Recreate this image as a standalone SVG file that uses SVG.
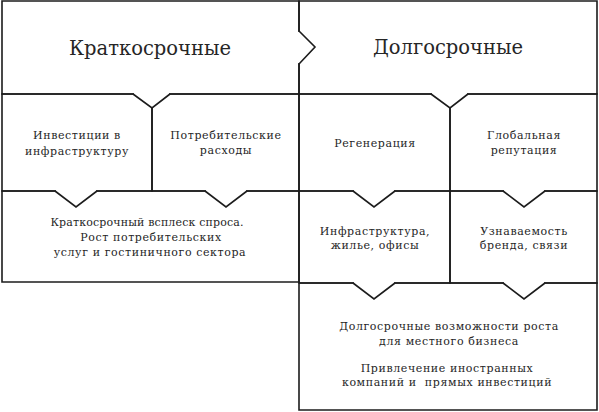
<svg xmlns="http://www.w3.org/2000/svg" width="599" height="412" viewBox="0 0 599 412">
<style>
.b{fill:none;stroke:#1c1c1c;stroke-width:1.6;stroke-linejoin:miter;stroke-linecap:square}
.c{fill:none;stroke:#1c1c1c;stroke-width:1.6;stroke-linejoin:miter}
.t{font-family:"DejaVu Serif","Liberation Serif",serif;fill:#262626;text-anchor:middle}
.h{font-size:19.5px}
.s{font-size:11px;letter-spacing:0.6px}
</style>
<rect width="599" height="412" fill="#ffffff"/>
<g id="short-term">
<path class="b" d="M299,31 V1 H2 V94 H133 M170,94 H299 V64"/>
<text class="t h" x="150" y="55">Краткосрочные</text>
</g>
<g id="long-term">
<path class="b" d="M299,31 V1 H597 V94 H468 M431,94 H299 V64"/>
<text class="t h" x="448" y="54">Долгосрочные</text>
</g>
<g id="infra-invest">
<path class="b" d="M133,94 H2 V191 H55 M97,191 H152 V108"/>
<text class="t s" x="77" y="139">Инвестиции в</text>
<text class="t s" x="77" y="155">инфраструктуру</text>
</g>
<g id="consumer-spending">
<path class="b" d="M170,94 H299 V191 H247 M205,191 H152 V108"/>
<text class="t s" x="226" y="139">Потребительские</text>
<text class="t s" x="226" y="154">расходы</text>
</g>
<g id="demand-burst">
<path class="b" d="M55,191 H2 V282 H299 V191 H247 M205,191 H97"/>
<text class="t s" x="147" y="226" style="letter-spacing:0.15px">Краткосрочный всплеск спроса.</text>
<text class="t s" x="151" y="241">Рост потребительских</text>
<text class="t s" x="150" y="256">услуг и гостиничного сектора</text>
</g>
<g id="regeneration">
<path class="b" d="M431,94 H299 V191 H353 M395,191 H450 V108"/>
<text class="t s" x="375" y="147">Регенерация</text>
</g>
<g id="global-reputation">
<path class="b" d="M468,94 H597 V191 H545 M503,191 H450 V108"/>
<text class="t s" x="524" y="139">Глобальная</text>
<text class="t s" x="524" y="154">репутация</text>
</g>
<g id="infrastructure">
<path class="b" d="M353,191 H299 V283 H353 M395,283 H450 V191 H395"/>
<text class="t s" x="375" y="235">Инфраструктура,</text>
<text class="t s" x="375" y="249">жилье, офисы</text>
</g>
<g id="brand">
<path class="b" d="M503,191 H450 V283 H503 M545,283 H597 V191 H545"/>
<text class="t s" x="524" y="235">Узнаваемость</text>
<text class="t s" x="524" y="249">бренда, связи</text>
</g>
<g id="long-growth">
<path class="b" d="M353,283 H299 V410 H597 V283 H545 M503,283 H395"/>
<text class="t s" x="449" y="330">Долгосрочные возможности роста</text>
<text class="t s" x="449" y="345">для местного бизнеса</text>
<text class="t s" x="447" y="372">Привлечение иностранных</text>
<text class="t s" x="447" y="386" xml:space="preserve">компаний и  прямых инвестиций</text>
</g>
<g id="connectors">
<path class="c" d="M299,31 L315,47 L299,64"/>
<path class="c" d="M133,94 L152,108 L170,94"/>
<path class="c" d="M431,94 L450,108 L468,94"/>
<path class="c" d="M55,191 L76,207 L97,191"/>
<path class="c" d="M205,191 L226,207 L247,191"/>
<path class="c" d="M353,191 L374,207 L395,191"/>
<path class="c" d="M503,191 L524,207 L545,191"/>
<path class="c" d="M353,283 L374,299 L395,283"/>
<path class="c" d="M503,283 L524,299 L545,283"/>
</g>
</svg>
